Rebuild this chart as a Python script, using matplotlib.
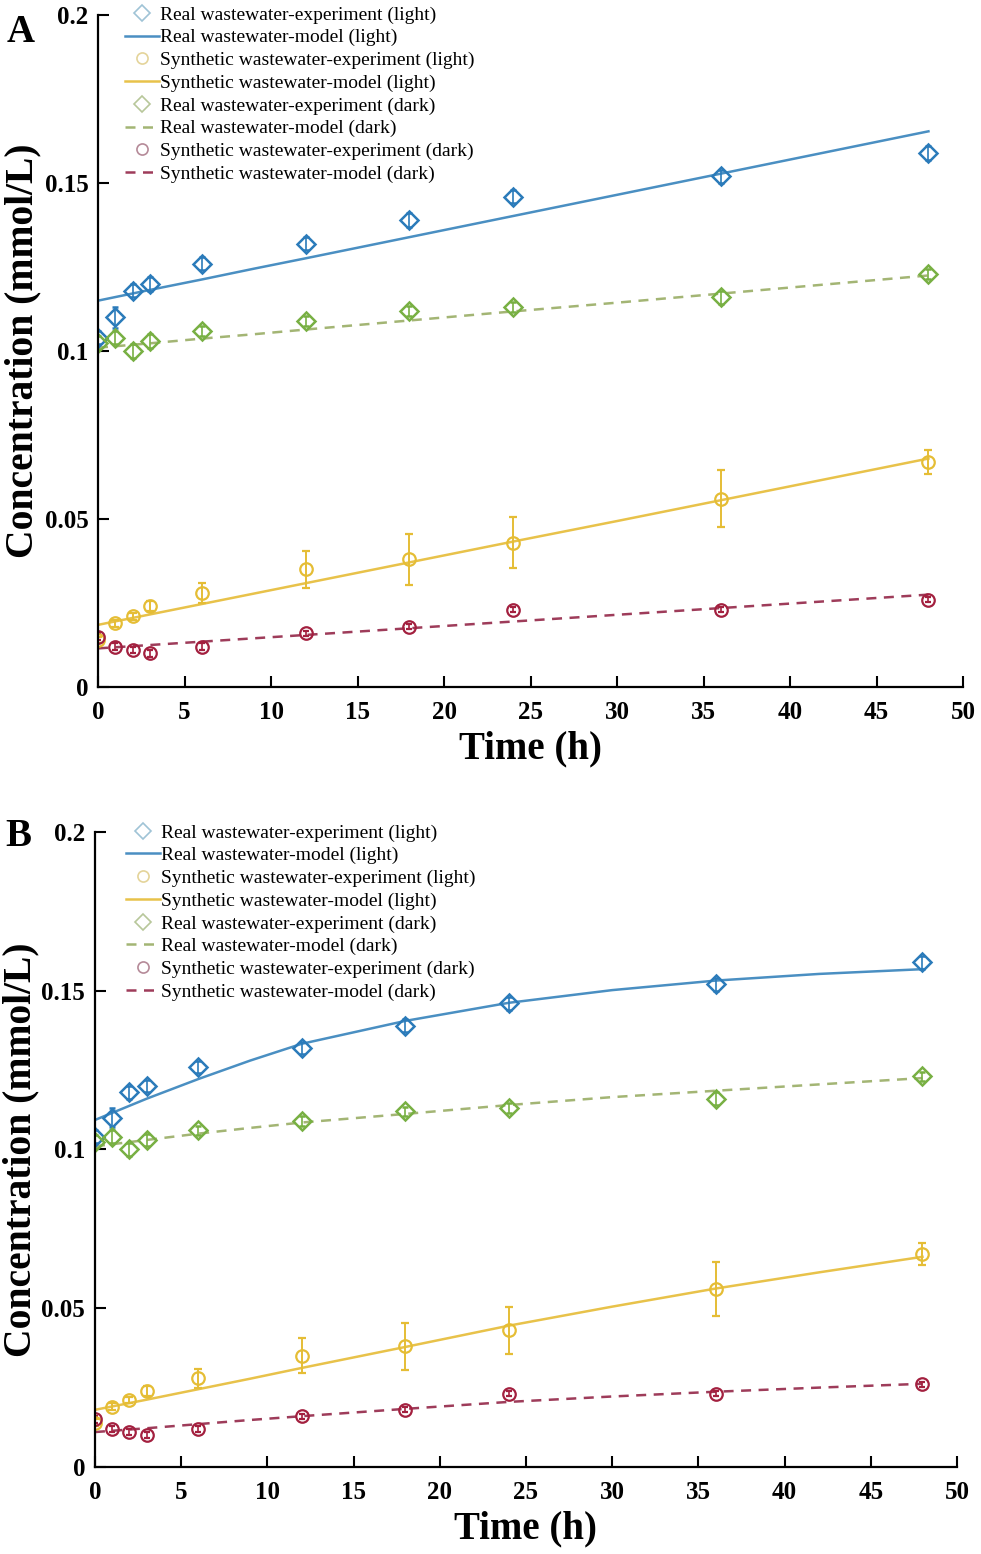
import matplotlib
matplotlib.use("Agg")
from matplotlib import pyplot as plt
from matplotlib.lines import Line2D

plt.rcParams['font.family'] = ['Liberation Serif', 'DejaVu Serif']

# sampling times (h)
t_exp = [0, 1, 2, 3, 6, 12, 18, 24, 36, 48]
t_mod = [0, 3, 6, 9, 12, 18, 24, 30, 36, 42, 48]

# experiments (same in both panels)
real_light = [0.104, 0.110, 0.118, 0.120, 0.126, 0.132, 0.139, 0.146, 0.152, 0.159]
real_light_err = [0.002, 0.003, 0.002, 0.002, 0.002, 0.002, 0.002, 0.002, 0.002, 0.002]
syn_light = [0.014, 0.019, 0.021, 0.024, 0.028, 0.035, 0.038, 0.043, 0.056, 0.067]
syn_light_err = [0.001, 0.001, 0.001, 0.0015, 0.003, 0.0055, 0.0075, 0.0075, 0.0085, 0.0035]
real_dark = [0.1025, 0.104, 0.100, 0.103, 0.106, 0.109, 0.112, 0.113, 0.116, 0.123]
real_dark_err = [0.002, 0.002, 0.002, 0.002, 0.0015, 0.0015, 0.0015, 0.0015, 0.002, 0.0015]
syn_dark = [0.015, 0.012, 0.011, 0.010, 0.012, 0.016, 0.018, 0.023, 0.023, 0.026]
syn_dark_err = [0.001, 0.001, 0.001, 0.001, 0.001, 0.0008, 0.0008, 0.0008, 0.0008, 0.0008]

# model curves, panel A
a_real_light = [0.1150, 0.1182, 0.1213, 0.1245, 0.1276, 0.1339, 0.1402, 0.1465, 0.1528, 0.1591, 0.1654]
a_syn_light = [0.0185, 0.0216, 0.0247, 0.0278, 0.0309, 0.0371, 0.0433, 0.0494, 0.0556, 0.0618, 0.0680]
a_real_dark = [0.1010, 0.1023, 0.1037, 0.1050, 0.1064, 0.1091, 0.1118, 0.1144, 0.1171, 0.1198, 0.1225]
a_syn_dark = [0.0115, 0.0125, 0.0135, 0.0145, 0.0155, 0.0175, 0.0195, 0.0215, 0.0235, 0.0255, 0.0275]

# model curves, panel B
b_real_light = [0.1093, 0.1160, 0.1222, 0.1280, 0.1333, 0.1405, 0.1462, 0.1502, 0.1532, 0.1553, 0.1568]
b_syn_light = [0.0180, 0.0212, 0.0245, 0.0278, 0.0312, 0.0378, 0.0445, 0.0505, 0.0562, 0.0613, 0.0662]
b_real_dark = [0.1010, 0.1030, 0.1050, 0.1068, 0.1085, 0.1112, 0.1140, 0.1165, 0.1185, 0.1205, 0.1225]
b_syn_dark = [0.0110, 0.0122, 0.0135, 0.0148, 0.0160, 0.0183, 0.0205, 0.0222, 0.0237, 0.0250, 0.0262]

labels = ["Real wastewater-experiment (light)", "Real wastewater-model (light)",
          "Synthetic wastewater-experiment (light)", "Synthetic wastewater-model (light)",
          "Real wastewater-experiment (dark)", "Real wastewater-model (dark)",
          "Synthetic wastewater-experiment (dark)", "Synthetic wastewater-model (dark)"]

c_blue, c_blue_l = "#2b7bba", "#4a8fc2"
c_yel, c_yel_l = "#e5bd35", "#e8c24a"
c_grn, c_grn_l = "#78b043", "#a3b574"
c_red, c_red_l = "#a3203f", "#9e3c5a"

fig = plt.figure(figsize=(9.81, 15.54), dpi=100)
axA = fig.add_axes([0.0999, 0.5579, 0.8818, 0.4324])
axB = fig.add_axes([0.0968, 0.0560, 0.8787, 0.4086])


def draw(ax, models, letter, letter_xy, ylab_x, leg_x):
    m_rl, m_sl, m_rd, m_sd = models
    ax.plot(t_mod, m_rl, color=c_blue_l, lw=1.8)
    ax.plot(t_mod, m_sl, color=c_yel_l, lw=1.8)
    ax.plot(t_mod, m_rd, color=c_grn_l, lw=1.8, ls=(0, (4, 3)))
    ax.plot(t_mod, m_sd, color=c_red_l, lw=1.8, ls=(0, (4, 3)))
    ax.errorbar(t_exp, real_light, yerr=real_light_err, fmt='D', ms=9, mfc='none', mec=c_blue,
                mew=1.8, ecolor=c_blue, elinewidth=1.2, capsize=2)
    ax.errorbar(t_exp, real_dark, yerr=real_dark_err, fmt='D', ms=9, mfc='none', mec=c_grn,
                mew=1.8, ecolor=c_grn, elinewidth=1.2, capsize=2)
    ax.errorbar(t_exp, syn_light, yerr=syn_light_err, fmt='o', ms=9, mfc='none', mec=c_yel,
                mew=1.6, ecolor=c_yel, elinewidth=1.4, capsize=3)
    ax.errorbar(t_exp, syn_dark, yerr=syn_dark_err, fmt='o', ms=9, mfc='none', mec=c_red,
                mew=1.6, ecolor=c_red, elinewidth=1.2, capsize=2)

    ax.set_xlim(0, 50)
    ax.set_ylim(0, 0.2)
    ax.set_xticks(range(0, 51, 5))
    ax.set_yticks([0, 0.05, 0.1, 0.15, 0.2])
    ax.set_yticklabels(["0", "0.05", "0.1", "0.15", "0.2"])
    ax.spines['top'].set_visible(False)
    ax.spines['right'].set_visible(False)
    ax.spines['left'].set_linewidth(1.6)
    ax.spines['bottom'].set_linewidth(1.6)
    ax.tick_params(direction='in', length=8, width=1.5, labelsize=18)
    ax.tick_params(axis='x', pad=10)
    ax.tick_params(axis='y', pad=7)
    for lab in ax.get_xticklabels() + ax.get_yticklabels():
        lab.set_fontweight('bold')
    ax.set_xlabel("Time (h)", fontsize=28, fontweight='bold', labelpad=5)
    ax.set_ylabel("Concentration (mmol/L)", fontsize=28.5, fontweight='bold')
    ax.yaxis.set_label_coords(ylab_x, 0.5)

    handles = [
        Line2D([], [], ls='none', marker='D', ms=8, mfc='none', mec='#9fc3d6', mew=1.2),
        Line2D([], [], color=c_blue_l, lw=1.8),
        Line2D([], [], ls='none', marker='o', ms=8, mfc='none', mec='#e4d49a', mew=1.2),
        Line2D([], [], color=c_yel_l, lw=1.8),
        Line2D([], [], ls='none', marker='D', ms=8, mfc='none', mec='#b7c79a', mew=1.2),
        Line2D([], [], color=c_grn_l, lw=1.8, ls=(0, (4, 3))),
        Line2D([], [], ls='none', marker='o', ms=8, mfc='none', mec='#b58a98', mew=1.2),
        Line2D([], [], color=c_red_l, lw=1.8, ls=(0, (4, 3))),
    ]
    ax.legend(handles, labels, loc='upper left', bbox_to_anchor=(leg_x, 1.025), frameon=False,
              fontsize=14, handlelength=1.75, handletextpad=0.05, labelspacing=0.26,
              borderaxespad=0.)
    fig.text(letter_xy[0], letter_xy[1], letter, fontsize=28, fontweight='bold',
             ha='center', va='center')


draw(axA, (a_real_light, a_syn_light, a_real_dark, a_syn_dark), "A", (0.021, 0.979), -0.066, 0.022)
draw(axB, (b_real_light, b_syn_light, b_real_dark, b_syn_dark), "B", (0.019, 0.462), -0.064, 0.027)

fig.savefig("out.png", dpi=100)
